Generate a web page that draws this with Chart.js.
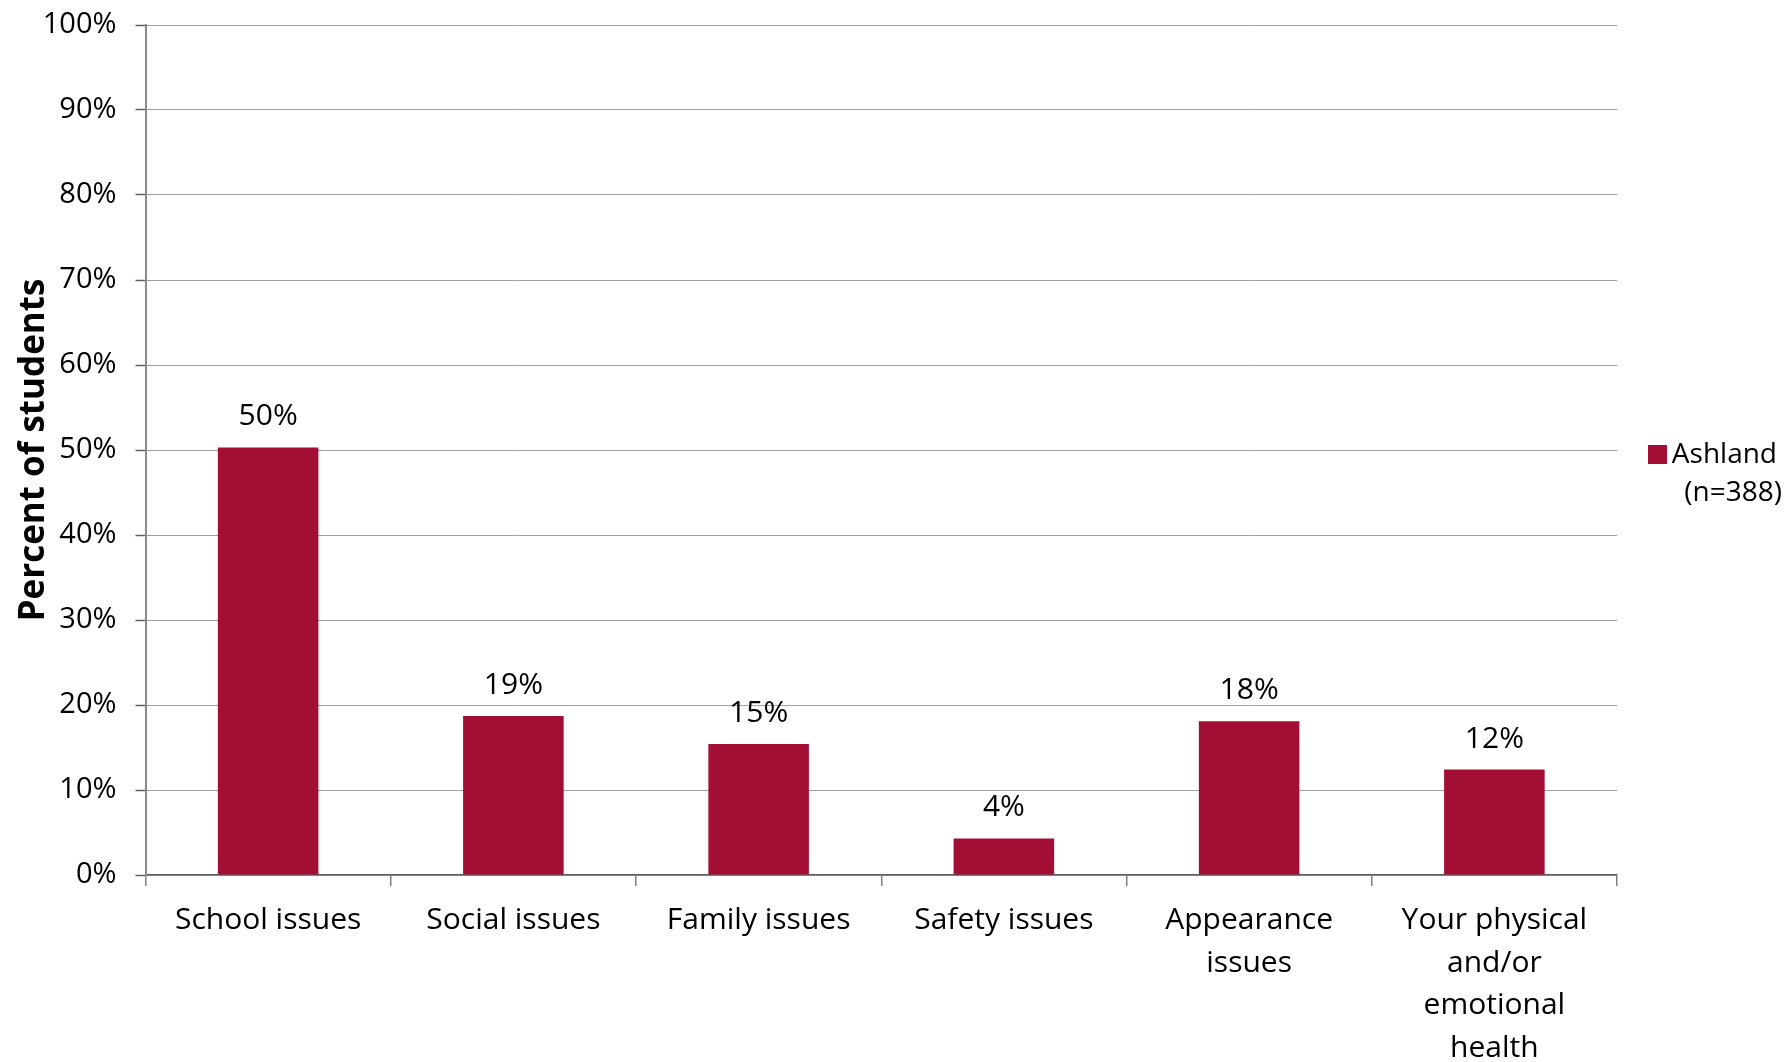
<!DOCTYPE html>
<html>
<head>
<meta charset="utf-8">
<script src="https://cdn.jsdelivr.net/npm/chart.js@4/dist/chart.umd.min.js"></script>
<style>
    html, body { margin: 0; padding: 0; background: #ffffff; }
    #wrap { width: 1784px; height: 1062px; }
</style>
</head>
<body>
<div id="wrap"><canvas id="bars"></canvas></div>
<script>
const categories = [
    'School issues',
    'Social issues',
    'Family issues',
    'Safety issues',
    ['Appearance', 'issues'],
    ['Your physical', 'and/or', 'emotional', 'health']
];
const ashlandValues = [50.3, 18.7, 15.4, 4.3, 18.1, 12.4];
const seriesLabel = ['Ashland', '(n=388)'];
const yTicks = [0, 10, 20, 30, 40, 50, 60, 70, 80, 90, 100];

const barColor = '#a30f34';
const fontFamily = "'Open Sans', 'Noto Sans', sans-serif";

// value labels above the bars
const barValueLabels = {
    id: 'barValueLabels',
    afterDatasetsDraw(chart) {
        const { ctx } = chart;
        const meta = chart.getDatasetMeta(0);
        ctx.save();
        ctx.font = '30px ' + fontFamily;
        ctx.fillStyle = '#000000';
        ctx.textAlign = 'center';
        ctx.textBaseline = 'alphabetic';
        meta.data.forEach((bar, i) => {
            const v = chart.data.datasets[0].data[i];
            ctx.fillText(Math.round(v) + '%', bar.x, bar.y - 22);
        });
        ctx.restore();
    }
};

// legend box at the right, label wrapped on two lines
const sideLegend = {
    id: 'sideLegend',
    afterDraw(chart) {
        const { ctx } = chart;
        ctx.save();
        ctx.fillStyle = barColor;
        ctx.fillRect(1648, 445, 19, 19);
        ctx.font = '28px ' + fontFamily;
        ctx.fillStyle = '#000000';
        ctx.textAlign = 'right';
        ctx.textBaseline = 'middle';
        ctx.fillText(seriesLabel[0], 1777, 455);
        ctx.fillText(seriesLabel[1], 1782, 493);
        ctx.restore();
    }
};

new Chart(document.getElementById('bars').getContext('2d'), {
    type: 'bar',
    plugins: [barValueLabels, sideLegend],
    data: {
        labels: categories,
        datasets: [{
            label: seriesLabel.join(' '),
            data: ashlandValues,
            backgroundColor: barColor,
            borderWidth: 0,
            categoryPercentage: 0.82,
            barPercentage: 0.5
        }]
    },
    options: {
        responsive: true,
        maintainAspectRatio: false,
        animation: false,
        layout: {
            padding: { top: 25, right: 167, bottom: 0, left: 0 }
        },
        plugins: {
            legend: { display: false },
            tooltip: { enabled: false }
        },
        scales: {
            x: {
                afterFit(scale) { scale.height = 187; },
                grid: {
                    offset: true,
                    drawOnChartArea: false,
                    tickLength: 11,
                    color: '#808080',
                    lineWidth: 1.5
                },
                border: { color: '#606060', width: 1.5 },
                ticks: {
                    color: '#000000',
                    padding: 13,
                    maxRotation: 0,
                    autoSkip: false,
                    font: { family: fontFamily, size: 30, lineHeight: 42.7 / 30 }
                }
            },
            y: {
                min: 0,
                max: 100,
                afterFit(scale) {
                    scale.width = 145.5;
                    scale.paddingTop = 0;
                    scale.paddingBottom = 0;
                },
                afterBuildTicks(scale) {
                    scale.ticks = yTicks.map(v => ({ value: v }));
                },
                grid: {
                    color: '#a0a0a0',
                    lineWidth: 1,
                    borderDash: [3, 1],
                    tickLength: 10,
                    tickColor: '#606060',
                    tickWidth: 1.5,
                    tickBorderDash: []
                },
                border: { color: '#8a8a8a', width: 2 },
                ticks: {
                    color: '#000000',
                    padding: 19,
                    font: { family: fontFamily, size: 29 },
                    callback: v => v + '%'
                },
                title: {
                    display: true,
                    text: 'Percent of students',
                    color: '#000000',
                    padding: { top: 13, bottom: 0 },
                    font: { family: fontFamily, size: 35, weight: 'bold' }
                }
            }
        }
    }
});
</script>
</body>
</html>
